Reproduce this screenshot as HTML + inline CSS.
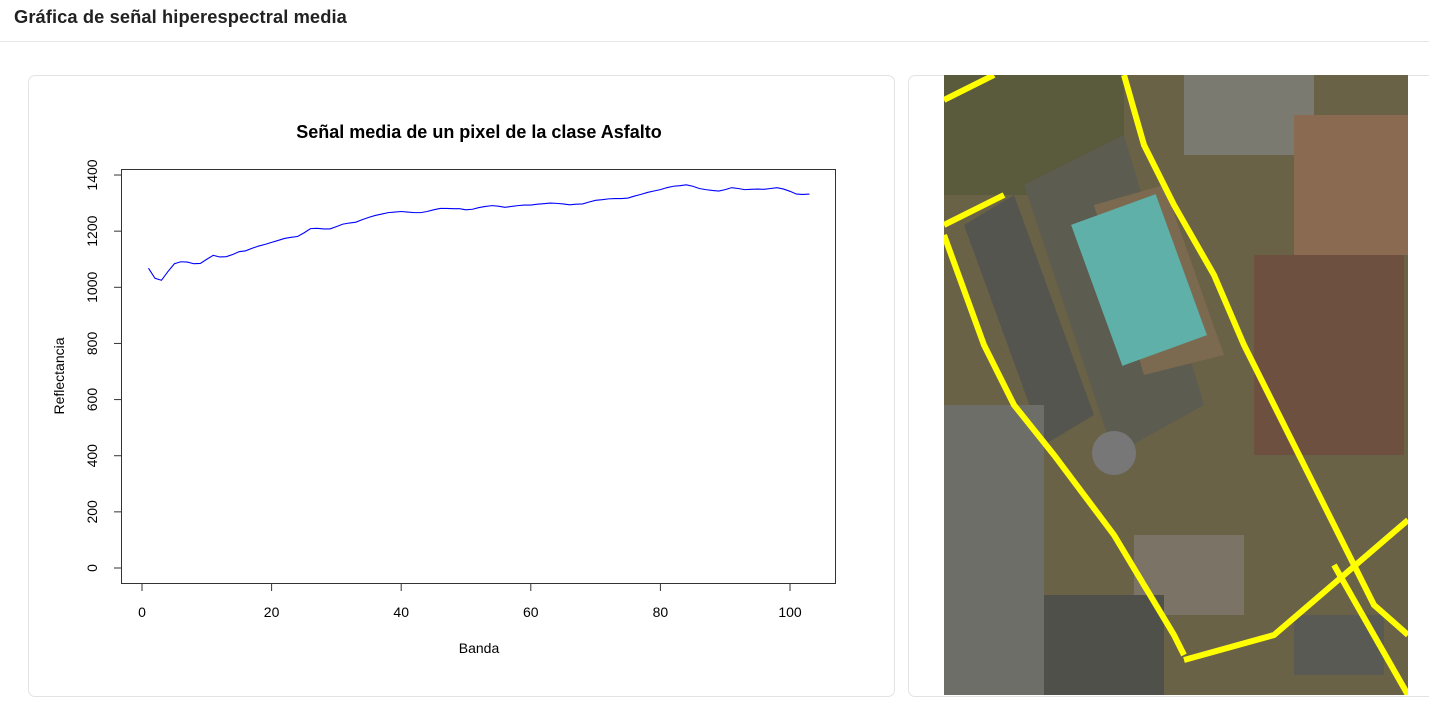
<!DOCTYPE html>
<html><head><meta charset="utf-8">
<style>
body{margin:0;width:1429px;height:725px;background:#fff;font-family:"Liberation Sans",sans-serif;overflow:hidden;position:relative}
#hdr{position:absolute;left:0;top:0;width:1429px;height:41px;border-bottom:1px solid #e6e6e6}
#hdr h1{margin:0;position:absolute;left:14px;top:6px;font-size:18.3px;font-weight:600;color:#222;letter-spacing:0.1px}
.card{position:absolute;border:1px solid #e3e3e3;border-radius:7px;background:#fff}
</style></head><body>
<div id="hdr"><h1>Gráfica de señal hiperespectral media</h1></div>
<div class="card" style="left:28px;top:75px;width:865px;height:620px"></div>
<div class="card" style="left:908px;top:75px;width:530px;height:620px"></div>
<svg id="chart" width="1429" height="725" style="position:absolute;left:0;top:0"></svg>
<svg width="464" height="620" style="position:absolute;left:944px;top:75px" viewBox="0 0 464 620">
<rect width="464" height="620" fill="#6a6246"/>
<rect x="0" y="0" width="180" height="120" fill="#5a5a3c"/>
<rect x="240" y="0" width="130" height="80" fill="#7a7a70"/>
<rect x="350" y="40" width="114" height="140" fill="#8a6a50"/>
<polygon points="80,110 180,60 260,330 170,380" fill="#5c5c50"/>
<polygon points="20,150 70,120 150,340 100,370" fill="#555550"/>
<polygon points="150,130 220,110 280,280 200,300" fill="#7b6a50"/>
<rect x="150" y="130" width="90" height="150" fill="#5fb0a8" transform="rotate(-20 195 205)"/>
<rect x="0" y="330" width="100" height="290" fill="#6e6e68"/>
<rect x="190" y="460" width="110" height="80" fill="#7a7366"/>
<rect x="100" y="520" width="120" height="100" fill="#50504a"/>
<rect x="310" y="180" width="150" height="200" fill="#6d5040"/>
<rect x="350" y="540" width="90" height="60" fill="#5a5a55"/>
<circle cx="170" cy="378" r="22" fill="#777"/>
<g fill="none" stroke="#ffff00" stroke-width="6">
<polyline points="0,25 50,0"/>
<polyline points="0,150 60,120"/>
<polyline points="0,160 40,270 70,330 110,380 170,460 230,560 240,580"/>
<polyline points="180,0 200,70 230,130 270,200 300,270 330,330 360,390 400,470 430,530 464,560"/>
<polyline points="240,585 330,560 400,500 464,445"/>
<polyline points="390,490 464,620"/>
</g>
</svg>
<script>
const bands=[1,2,3,4,5,6,7,8,9,10,11,12,13,14,15,16,17,18,19,20,21,22,23,24,25,26,27,28,29,30,31,32,33,34,35,36,37,38,39,40,41,42,43,44,45,46,47,48,49,50,51,52,53,54,55,56,57,58,59,60,61,62,63,64,65,66,67,68,69,70,71,72,73,74,75,76,77,78,79,80,81,82,83,84,85,86,87,88,89,90,91,92,93,94,95,96,97,98,99,100,101,102,103];
const reflect=[1068,1032,1025,1056,1084,1091,1090,1084,1085,1100,1114,1108,1109,1117,1127,1130,1139,1147,1153,1160,1167,1174,1178,1181,1194,1209,1210,1208,1208,1216,1225,1229,1232,1241,1249,1256,1261,1266,1268,1270,1268,1266,1266,1270,1276,1281,1281,1280,1280,1276,1278,1284,1288,1291,1289,1285,1288,1291,1293,1293,1296,1298,1300,1299,1297,1294,1296,1297,1304,1310,1312,1315,1316,1316,1318,1325,1331,1338,1343,1348,1355,1360,1362,1365,1360,1352,1348,1345,1343,1348,1355,1352,1348,1349,1350,1349,1352,1355,1350,1342,1332,1331,1332];
const xTicks=[0,20,40,60,80,100];
const yTicks=[0,200,400,600,800,1000,1200,1400];
const svg=document.getElementById('chart');
const NS='http://www.w3.org/2000/svg';
const xs=v=>142+v*6.48;
const ys=v=>568-v*0.2807;
function mk(t,a){const e=document.createElementNS(NS,t);for(const k in a)e.setAttribute(k,a[k]);svg.appendChild(e);return e;}
let box=mk('rect',{x:121.5,y:169.5,width:714,height:414,fill:'none',stroke:'#333','stroke-width':1});


let ttl=mk('text',{x:479,y:138,'text-anchor':'middle','font-size':18,'font-weight':'bold',fill:'#000'});
ttl.textContent='Señal media de un pixel de la clase Asfalto';


let xl=mk('text',{x:479,y:653,'text-anchor':'middle','font-size':14,fill:'#000'});
xl.textContent='Banda';


let yl=mk('text',{x:0,y:0,'text-anchor':'middle','font-size':14,fill:'#000',transform:'translate(64,376) rotate(-90)'});
yl.textContent='Reflectancia';


xTicks.forEach(t=>{const x=xs(t);mk('line',{x1:x,x2:x,y1:584,y2:591,stroke:'#333'});
 const e=mk('text',{x:x,y:617,'text-anchor':'middle','font-size':14,fill:'#000'});e.textContent=t;
 
 });
yTicks.forEach(t=>{const y=ys(t);mk('line',{x1:114,x2:121,y1:y,y2:y,stroke:'#333'});
 const e=mk('text',{x:0,y:0,'text-anchor':'middle','font-size':14,fill:'#000',transform:`translate(97,${y}) rotate(-90)`});e.textContent=t;
 
 });
let ln=mk('polyline',{points:bands.map((b,i)=>xs(b)+','+ys(reflect[i])).join(' '),fill:'none',stroke:'#0000ff','stroke-width':1.1});


</script>
</body></html>
